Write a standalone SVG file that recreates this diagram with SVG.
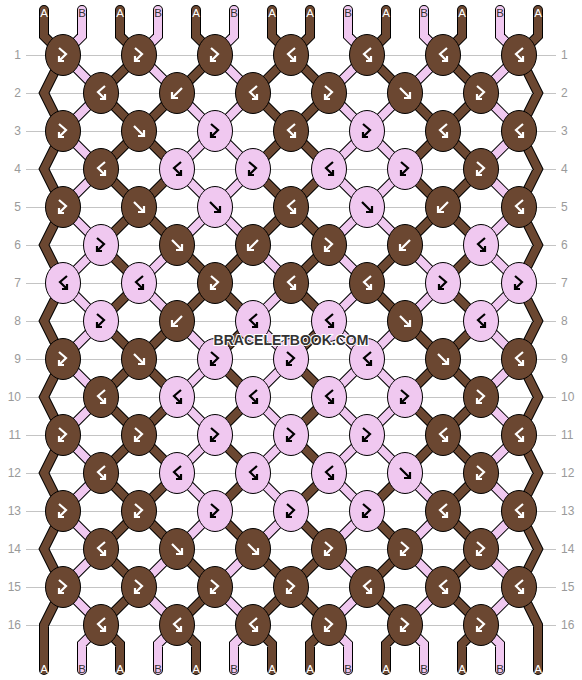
<svg xmlns="http://www.w3.org/2000/svg" xmlns:xlink="http://www.w3.org/1999/xlink" width="582" height="680" viewBox="0 0 582 680">
<style>
.grid{stroke:#c4c4c4;stroke-width:1;fill:none}
.num{font-family:"Liberation Sans",Arial,sans-serif;font-size:12px;fill:#9a9a9a}
.nl{text-anchor:end}
.o{fill:none;stroke:#000;stroke-width:10;stroke-linecap:round;stroke-linejoin:miter}
.ca{fill:none;stroke:#6b4731;stroke-width:8;stroke-linecap:round;stroke-linejoin:miter}
.cb{fill:none;stroke:#f0c8f0;stroke-width:8;stroke-linecap:round;stroke-linejoin:miter}
ellipse{stroke:#000;stroke-width:1}
.A ellipse{fill:#6b4731}
.B ellipse{fill:#f0c8f0}
.A use{color:#fff}
.B use{color:#000}
.ic{fill:none;stroke:currentColor;stroke-width:2.2;stroke-linejoin:miter;stroke-linecap:butt}
.lbl{font-family:"Liberation Sans",Arial,sans-serif;font-size:11.5px;text-anchor:middle}
.la{fill:#fff}
.lb{fill:#333}
.wm{font-family:"Liberation Sans",Arial,sans-serif;font-size:14px;font-weight:bold;fill:#333;stroke:#fff;stroke-width:2;paint-order:stroke;text-anchor:middle}
</style>
<defs>
<path id="f" class="ic" d="M-5-5L4 4M5-1V5H-1"/>
<path id="b" class="ic" d="M5-5L-4 4M-5-1V5H1"/>
<path id="fb" class="ic" d="M-4-7L3-1L-4 6M-4 1V6H1"/>
<path id="bf" class="ic" d="M4-7L-3-1L4 6M4 1V6H-1"/>
<path id="sA" d="M44 10V36L63 55L44 93L63 131L44 169L63 207L44 245L63 283L44 321L63 359L44 397L63 435L44 473L63 511L44 549L63 587L44 625V670
M538 10V36L519 55L538 93L519 131L538 169L519 207L538 245L519 283L538 321L519 359L538 397L519 435L538 473L519 511L538 549L519 587L538 625V670
M120 10V36L139 55M196 10V36L215 55M272 10V36L291 55M310 10V36L291 55M386 10V36L367 55M462 10V36L443 55
M139 55l-38 38M215 55l-38 38M291 55l-38 38M291 55l38 38M367 55l38 38M443 55l38 38
M101 93l38 38M177 93l-38 38M253 93l38 38M329 93l-38 38M405 93l38 38M481 93l-38 38
M139 131l-38 38M139 131l38 38M291 131l-38 38M291 131l38 38M443 131l-38 38M443 131l38 38
M101 169l38 38M177 169l-38 38M253 169l38 38M329 169l-38 38M405 169l38 38M481 169l-38 38
M139 207l-38 38M139 207l38 38M291 207l-38 38M291 207l38 38M443 207l-38 38M443 207l38 38
M101 245l38 38M177 245l38 38M253 245l-38 38M329 245l-38 38M405 245l-38 38M481 245l-38 38
M139 283l-38 38M215 283l-38 38M215 283l38 38M291 283l38 38M367 283l38 38M443 283l38 38
M101 321l38 38M177 321l-38 38M253 321l-38 38M329 321l-38 38M405 321l38 38M481 321l-38 38
M139 359l-38 38M139 359l38 38M215 359l38 38M291 359l38 38M443 359l-38 38M443 359l38 38
M101 397l38 38M177 397l-38 38M253 397l-38 38M329 397l-38 38M405 397l38 38M481 397l-38 38
M139 435l-38 38M139 435l38 38M215 435l38 38M291 435l38 38M443 435l-38 38M443 435l38 38
M101 473l38 38M177 473l-38 38M253 473l-38 38M329 473l-38 38M405 473l-38 38M481 473l-38 38
M139 511l-38 38M139 511l38 38M215 511l38 38M291 511l38 38M367 511l38 38M443 511l38 38
M101 549l38 38M177 549l38 38M253 549l38 38M329 549l-38 38M405 549l-38 38M481 549l-38 38
M139 587l-38 38M215 587l-38 38M291 587l-38 38M291 587l38 38M367 587l38 38M443 587l38 38
M101 625L120 644V670M177 625L196 644V670M253 625L272 644V670M329 625L310 644V670M405 625L386 644V670M481 625L462 644V670"/>
<path id="sB" d="M82 10V36L63 55M158 10V36L139 55M234 10V36L215 55M348 10V36L367 55M424 10V36L443 55M500 10V36L519 55
M63 55l38 38M139 55l38 38M215 55l38 38M367 55l-38 38M443 55l-38 38M519 55l-38 38
M101 93l-38 38M177 93l38 38M253 93l-38 38M329 93l38 38M405 93l-38 38M481 93l38 38
M63 131l38 38M215 131l-38 38M215 131l38 38M367 131l-38 38M367 131l38 38M519 131l-38 38
M101 169l-38 38M177 169l38 38M253 169l-38 38M329 169l38 38M405 169l-38 38M481 169l38 38
M63 207l38 38M215 207l-38 38M215 207l38 38M367 207l-38 38M367 207l38 38M519 207l-38 38
M101 245l-38 38M177 245l-38 38M253 245l38 38M329 245l38 38M405 245l38 38M481 245l38 38
M63 283l38 38M139 283l38 38M291 283l-38 38M367 283l-38 38M443 283l-38 38M519 283l-38 38
M101 321l-38 38M177 321l38 38M253 321l38 38M329 321l38 38M405 321l-38 38M481 321l38 38
M63 359l38 38M215 359l-38 38M291 359l-38 38M367 359l-38 38M367 359l38 38M519 359l-38 38
M101 397l-38 38M177 397l38 38M253 397l38 38M329 397l38 38M405 397l-38 38M481 397l38 38
M63 435l38 38M215 435l-38 38M291 435l-38 38M367 435l-38 38M367 435l38 38M519 435l-38 38
M101 473l-38 38M177 473l38 38M253 473l38 38M329 473l38 38M405 473l38 38M481 473l38 38
M63 511l38 38M215 511l-38 38M291 511l-38 38M367 511l-38 38M443 511l-38 38M519 511l-38 38
M101 549l-38 38M177 549l-38 38M253 549l-38 38M329 549l38 38M405 549l38 38M481 549l38 38
M63 587l38 38M139 587l38 38M215 587l38 38M367 587l-38 38M443 587l-38 38M519 587l-38 38
M101 625L82 644V670M177 625L158 644V670M253 625L234 644V670M329 625L348 644V670M405 625L424 644V670M481 625L500 644V670"/>
</defs>
<rect width="582" height="680" fill="#fff"/>
<g id="grid">
<path class="grid" d="M26 55.5H556M26 93.5H556M26 131.5H556M26 169.5H556M26 207.5H556M26 245.5H556M26 283.5H556M26 321.5H556M26 359.5H556M26 397.5H556M26 435.5H556M26 473.5H556M26 511.5H556M26 549.5H556M26 587.5H556M26 625.5H556"/>
<text class="num nl" x="21" y="59">1</text><text class="num nl" x="21" y="97">2</text><text class="num nl" x="21" y="135">3</text><text class="num nl" x="21" y="173">4</text><text class="num nl" x="21" y="211">5</text><text class="num nl" x="21" y="249">6</text><text class="num nl" x="21" y="287">7</text><text class="num nl" x="21" y="325">8</text><text class="num nl" x="21" y="363">9</text><text class="num nl" x="21" y="401">10</text><text class="num nl" x="21" y="439">11</text><text class="num nl" x="21" y="477">12</text><text class="num nl" x="21" y="515">13</text><text class="num nl" x="21" y="553">14</text><text class="num nl" x="21" y="591">15</text><text class="num nl" x="21" y="629">16</text>
<text class="num" x="561" y="59">1</text><text class="num" x="561" y="97">2</text><text class="num" x="561" y="135">3</text><text class="num" x="561" y="173">4</text><text class="num" x="561" y="211">5</text><text class="num" x="561" y="249">6</text><text class="num" x="561" y="287">7</text><text class="num" x="561" y="325">8</text><text class="num" x="561" y="363">9</text><text class="num" x="561" y="401">10</text><text class="num" x="561" y="439">11</text><text class="num" x="561" y="477">12</text><text class="num" x="561" y="515">13</text><text class="num" x="561" y="553">14</text><text class="num" x="561" y="591">15</text><text class="num" x="561" y="629">16</text>
</g>
<g id="connectors">
<use href="#sA" class="o"/><use href="#sB" class="o"/>
<use href="#sA" class="ca"/><use href="#sB" class="cb"/>
</g>
<g id="labels">
<text class="lbl la" x="44" y="17">A</text><text class="lbl lb" x="82" y="17">B</text><text class="lbl la" x="120" y="17">A</text><text class="lbl lb" x="158" y="17">B</text><text class="lbl la" x="196" y="17">A</text><text class="lbl lb" x="234" y="17">B</text><text class="lbl la" x="272" y="17">A</text><text class="lbl la" x="310" y="17">A</text><text class="lbl lb" x="348" y="17">B</text><text class="lbl la" x="386" y="17">A</text><text class="lbl lb" x="424" y="17">B</text><text class="lbl la" x="462" y="17">A</text><text class="lbl lb" x="500" y="17">B</text><text class="lbl la" x="538" y="17">A</text>
<text class="lbl la" x="44" y="673">A</text><text class="lbl lb" x="82" y="673">B</text><text class="lbl la" x="120" y="673">A</text><text class="lbl lb" x="158" y="673">B</text><text class="lbl la" x="196" y="673">A</text><text class="lbl lb" x="234" y="673">B</text><text class="lbl la" x="272" y="673">A</text><text class="lbl la" x="310" y="673">A</text><text class="lbl lb" x="348" y="673">B</text><text class="lbl la" x="386" y="673">A</text><text class="lbl lb" x="424" y="673">B</text><text class="lbl la" x="462" y="673">A</text><text class="lbl lb" x="500" y="673">B</text><text class="lbl la" x="538" y="673">A</text>
</g>
<g id="knots">
<g id="k1_1" class="A" transform="translate(63 55)"><ellipse rx="17.5" ry="20.5"/><use href="#fb"/></g>
<g id="k1_2" class="A" transform="translate(139 55)"><ellipse rx="17.5" ry="20.5"/><use href="#fb"/></g>
<g id="k1_3" class="A" transform="translate(215 55)"><ellipse rx="17.5" ry="20.5"/><use href="#fb"/></g>
<g id="k1_4" class="A" transform="translate(291 55)"><ellipse rx="17.5" ry="20.5"/><use href="#bf"/></g>
<g id="k1_5" class="A" transform="translate(367 55)"><ellipse rx="17.5" ry="20.5"/><use href="#bf"/></g>
<g id="k1_6" class="A" transform="translate(443 55)"><ellipse rx="17.5" ry="20.5"/><use href="#bf"/></g>
<g id="k1_7" class="A" transform="translate(519 55)"><ellipse rx="17.5" ry="20.5"/><use href="#bf"/></g>
<g id="k2_1" class="A" transform="translate(101 93)"><ellipse rx="17.5" ry="20.5"/><use href="#bf"/></g>
<g id="k2_2" class="A" transform="translate(177 93)"><ellipse rx="17.5" ry="20.5"/><use href="#b"/></g>
<g id="k2_3" class="A" transform="translate(253 93)"><ellipse rx="17.5" ry="20.5"/><use href="#bf"/></g>
<g id="k2_4" class="A" transform="translate(329 93)"><ellipse rx="17.5" ry="20.5"/><use href="#fb"/></g>
<g id="k2_5" class="A" transform="translate(405 93)"><ellipse rx="17.5" ry="20.5"/><use href="#f"/></g>
<g id="k2_6" class="A" transform="translate(481 93)"><ellipse rx="17.5" ry="20.5"/><use href="#fb"/></g>
<g id="k3_1" class="A" transform="translate(63 131)"><ellipse rx="17.5" ry="20.5"/><use href="#fb"/></g>
<g id="k3_2" class="A" transform="translate(139 131)"><ellipse rx="17.5" ry="20.5"/><use href="#f"/></g>
<g id="k3_3" class="B" transform="translate(215 131)"><ellipse rx="17.5" ry="20.5"/><use href="#fb"/></g>
<g id="k3_4" class="A" transform="translate(291 131)"><ellipse rx="17.5" ry="20.5"/><use href="#bf"/></g>
<g id="k3_5" class="B" transform="translate(367 131)"><ellipse rx="17.5" ry="20.5"/><use href="#fb"/></g>
<g id="k3_6" class="A" transform="translate(443 131)"><ellipse rx="17.5" ry="20.5"/><use href="#bf"/></g>
<g id="k3_7" class="A" transform="translate(519 131)"><ellipse rx="17.5" ry="20.5"/><use href="#bf"/></g>
<g id="k4_1" class="A" transform="translate(101 169)"><ellipse rx="17.5" ry="20.5"/><use href="#bf"/></g>
<g id="k4_2" class="B" transform="translate(177 169)"><ellipse rx="17.5" ry="20.5"/><use href="#bf"/></g>
<g id="k4_3" class="B" transform="translate(253 169)"><ellipse rx="17.5" ry="20.5"/><use href="#fb"/></g>
<g id="k4_4" class="B" transform="translate(329 169)"><ellipse rx="17.5" ry="20.5"/><use href="#bf"/></g>
<g id="k4_5" class="B" transform="translate(405 169)"><ellipse rx="17.5" ry="20.5"/><use href="#fb"/></g>
<g id="k4_6" class="A" transform="translate(481 169)"><ellipse rx="17.5" ry="20.5"/><use href="#fb"/></g>
<g id="k5_1" class="A" transform="translate(63 207)"><ellipse rx="17.5" ry="20.5"/><use href="#fb"/></g>
<g id="k5_2" class="A" transform="translate(139 207)"><ellipse rx="17.5" ry="20.5"/><use href="#f"/></g>
<g id="k5_3" class="B" transform="translate(215 207)"><ellipse rx="17.5" ry="20.5"/><use href="#f"/></g>
<g id="k5_4" class="A" transform="translate(291 207)"><ellipse rx="17.5" ry="20.5"/><use href="#bf"/></g>
<g id="k5_5" class="B" transform="translate(367 207)"><ellipse rx="17.5" ry="20.5"/><use href="#f"/></g>
<g id="k5_6" class="A" transform="translate(443 207)"><ellipse rx="17.5" ry="20.5"/><use href="#b"/></g>
<g id="k5_7" class="A" transform="translate(519 207)"><ellipse rx="17.5" ry="20.5"/><use href="#bf"/></g>
<g id="k6_1" class="B" transform="translate(101 245)"><ellipse rx="17.5" ry="20.5"/><use href="#fb"/></g>
<g id="k6_2" class="A" transform="translate(177 245)"><ellipse rx="17.5" ry="20.5"/><use href="#f"/></g>
<g id="k6_3" class="A" transform="translate(253 245)"><ellipse rx="17.5" ry="20.5"/><use href="#b"/></g>
<g id="k6_4" class="A" transform="translate(329 245)"><ellipse rx="17.5" ry="20.5"/><use href="#fb"/></g>
<g id="k6_5" class="A" transform="translate(405 245)"><ellipse rx="17.5" ry="20.5"/><use href="#b"/></g>
<g id="k6_6" class="B" transform="translate(481 245)"><ellipse rx="17.5" ry="20.5"/><use href="#bf"/></g>
<g id="k7_1" class="B" transform="translate(63 283)"><ellipse rx="17.5" ry="20.5"/><use href="#bf"/></g>
<g id="k7_2" class="B" transform="translate(139 283)"><ellipse rx="17.5" ry="20.5"/><use href="#bf"/></g>
<g id="k7_3" class="A" transform="translate(215 283)"><ellipse rx="17.5" ry="20.5"/><use href="#fb"/></g>
<g id="k7_4" class="A" transform="translate(291 283)"><ellipse rx="17.5" ry="20.5"/><use href="#bf"/></g>
<g id="k7_5" class="A" transform="translate(367 283)"><ellipse rx="17.5" ry="20.5"/><use href="#bf"/></g>
<g id="k7_6" class="B" transform="translate(443 283)"><ellipse rx="17.5" ry="20.5"/><use href="#fb"/></g>
<g id="k7_7" class="B" transform="translate(519 283)"><ellipse rx="17.5" ry="20.5"/><use href="#fb"/></g>
<g id="k8_1" class="B" transform="translate(101 321)"><ellipse rx="17.5" ry="20.5"/><use href="#fb"/></g>
<g id="k8_2" class="A" transform="translate(177 321)"><ellipse rx="17.5" ry="20.5"/><use href="#b"/></g>
<g id="k8_3" class="B" transform="translate(253 321)"><ellipse rx="17.5" ry="20.5"/><use href="#bf"/></g>
<g id="k8_4" class="B" transform="translate(329 321)"><ellipse rx="17.5" ry="20.5"/><use href="#bf"/></g>
<g id="k8_5" class="A" transform="translate(405 321)"><ellipse rx="17.5" ry="20.5"/><use href="#f"/></g>
<g id="k8_6" class="B" transform="translate(481 321)"><ellipse rx="17.5" ry="20.5"/><use href="#bf"/></g>
<g id="k9_1" class="A" transform="translate(63 359)"><ellipse rx="17.5" ry="20.5"/><use href="#fb"/></g>
<g id="k9_2" class="A" transform="translate(139 359)"><ellipse rx="17.5" ry="20.5"/><use href="#f"/></g>
<g id="k9_3" class="B" transform="translate(215 359)"><ellipse rx="17.5" ry="20.5"/><use href="#fb"/></g>
<g id="k9_4" class="B" transform="translate(291 359)"><ellipse rx="17.5" ry="20.5"/><use href="#fb"/></g>
<g id="k9_5" class="B" transform="translate(367 359)"><ellipse rx="17.5" ry="20.5"/><use href="#bf"/></g>
<g id="k9_6" class="A" transform="translate(443 359)"><ellipse rx="17.5" ry="20.5"/><use href="#f"/></g>
<g id="k9_7" class="A" transform="translate(519 359)"><ellipse rx="17.5" ry="20.5"/><use href="#bf"/></g>
<g id="k10_1" class="A" transform="translate(101 397)"><ellipse rx="17.5" ry="20.5"/><use href="#bf"/></g>
<g id="k10_2" class="B" transform="translate(177 397)"><ellipse rx="17.5" ry="20.5"/><use href="#bf"/></g>
<g id="k10_3" class="B" transform="translate(253 397)"><ellipse rx="17.5" ry="20.5"/><use href="#bf"/></g>
<g id="k10_4" class="B" transform="translate(329 397)"><ellipse rx="17.5" ry="20.5"/><use href="#bf"/></g>
<g id="k10_5" class="B" transform="translate(405 397)"><ellipse rx="17.5" ry="20.5"/><use href="#fb"/></g>
<g id="k10_6" class="A" transform="translate(481 397)"><ellipse rx="17.5" ry="20.5"/><use href="#fb"/></g>
<g id="k11_1" class="A" transform="translate(63 435)"><ellipse rx="17.5" ry="20.5"/><use href="#fb"/></g>
<g id="k11_2" class="A" transform="translate(139 435)"><ellipse rx="17.5" ry="20.5"/><use href="#fb"/></g>
<g id="k11_3" class="B" transform="translate(215 435)"><ellipse rx="17.5" ry="20.5"/><use href="#fb"/></g>
<g id="k11_4" class="B" transform="translate(291 435)"><ellipse rx="17.5" ry="20.5"/><use href="#fb"/></g>
<g id="k11_5" class="B" transform="translate(367 435)"><ellipse rx="17.5" ry="20.5"/><use href="#fb"/></g>
<g id="k11_6" class="A" transform="translate(443 435)"><ellipse rx="17.5" ry="20.5"/><use href="#bf"/></g>
<g id="k11_7" class="A" transform="translate(519 435)"><ellipse rx="17.5" ry="20.5"/><use href="#bf"/></g>
<g id="k12_1" class="A" transform="translate(101 473)"><ellipse rx="17.5" ry="20.5"/><use href="#bf"/></g>
<g id="k12_2" class="B" transform="translate(177 473)"><ellipse rx="17.5" ry="20.5"/><use href="#bf"/></g>
<g id="k12_3" class="B" transform="translate(253 473)"><ellipse rx="17.5" ry="20.5"/><use href="#bf"/></g>
<g id="k12_4" class="B" transform="translate(329 473)"><ellipse rx="17.5" ry="20.5"/><use href="#bf"/></g>
<g id="k12_5" class="B" transform="translate(405 473)"><ellipse rx="17.5" ry="20.5"/><use href="#f"/></g>
<g id="k12_6" class="A" transform="translate(481 473)"><ellipse rx="17.5" ry="20.5"/><use href="#fb"/></g>
<g id="k13_1" class="A" transform="translate(63 511)"><ellipse rx="17.5" ry="20.5"/><use href="#fb"/></g>
<g id="k13_2" class="A" transform="translate(139 511)"><ellipse rx="17.5" ry="20.5"/><use href="#fb"/></g>
<g id="k13_3" class="B" transform="translate(215 511)"><ellipse rx="17.5" ry="20.5"/><use href="#fb"/></g>
<g id="k13_4" class="B" transform="translate(291 511)"><ellipse rx="17.5" ry="20.5"/><use href="#fb"/></g>
<g id="k13_5" class="B" transform="translate(367 511)"><ellipse rx="17.5" ry="20.5"/><use href="#fb"/></g>
<g id="k13_6" class="A" transform="translate(443 511)"><ellipse rx="17.5" ry="20.5"/><use href="#bf"/></g>
<g id="k13_7" class="A" transform="translate(519 511)"><ellipse rx="17.5" ry="20.5"/><use href="#bf"/></g>
<g id="k14_1" class="A" transform="translate(101 549)"><ellipse rx="17.5" ry="20.5"/><use href="#bf"/></g>
<g id="k14_2" class="A" transform="translate(177 549)"><ellipse rx="17.5" ry="20.5"/><use href="#f"/></g>
<g id="k14_3" class="A" transform="translate(253 549)"><ellipse rx="17.5" ry="20.5"/><use href="#f"/></g>
<g id="k14_4" class="A" transform="translate(329 549)"><ellipse rx="17.5" ry="20.5"/><use href="#fb"/></g>
<g id="k14_5" class="A" transform="translate(405 549)"><ellipse rx="17.5" ry="20.5"/><use href="#fb"/></g>
<g id="k14_6" class="A" transform="translate(481 549)"><ellipse rx="17.5" ry="20.5"/><use href="#fb"/></g>
<g id="k15_1" class="A" transform="translate(63 587)"><ellipse rx="17.5" ry="20.5"/><use href="#fb"/></g>
<g id="k15_2" class="A" transform="translate(139 587)"><ellipse rx="17.5" ry="20.5"/><use href="#fb"/></g>
<g id="k15_3" class="A" transform="translate(215 587)"><ellipse rx="17.5" ry="20.5"/><use href="#fb"/></g>
<g id="k15_4" class="A" transform="translate(291 587)"><ellipse rx="17.5" ry="20.5"/><use href="#fb"/></g>
<g id="k15_5" class="A" transform="translate(367 587)"><ellipse rx="17.5" ry="20.5"/><use href="#bf"/></g>
<g id="k15_6" class="A" transform="translate(443 587)"><ellipse rx="17.5" ry="20.5"/><use href="#bf"/></g>
<g id="k15_7" class="A" transform="translate(519 587)"><ellipse rx="17.5" ry="20.5"/><use href="#bf"/></g>
<g id="k16_1" class="A" transform="translate(101 625)"><ellipse rx="17.5" ry="20.5"/><use href="#bf"/></g>
<g id="k16_2" class="A" transform="translate(177 625)"><ellipse rx="17.5" ry="20.5"/><use href="#bf"/></g>
<g id="k16_3" class="A" transform="translate(253 625)"><ellipse rx="17.5" ry="20.5"/><use href="#bf"/></g>
<g id="k16_4" class="A" transform="translate(329 625)"><ellipse rx="17.5" ry="20.5"/><use href="#fb"/></g>
<g id="k16_5" class="A" transform="translate(405 625)"><ellipse rx="17.5" ry="20.5"/><use href="#fb"/></g>
<g id="k16_6" class="A" transform="translate(481 625)"><ellipse rx="17.5" ry="20.5"/><use href="#fb"/></g>
</g>
<text class="wm" x="291" y="345">BRACELETBOOK.COM</text>
</svg>
